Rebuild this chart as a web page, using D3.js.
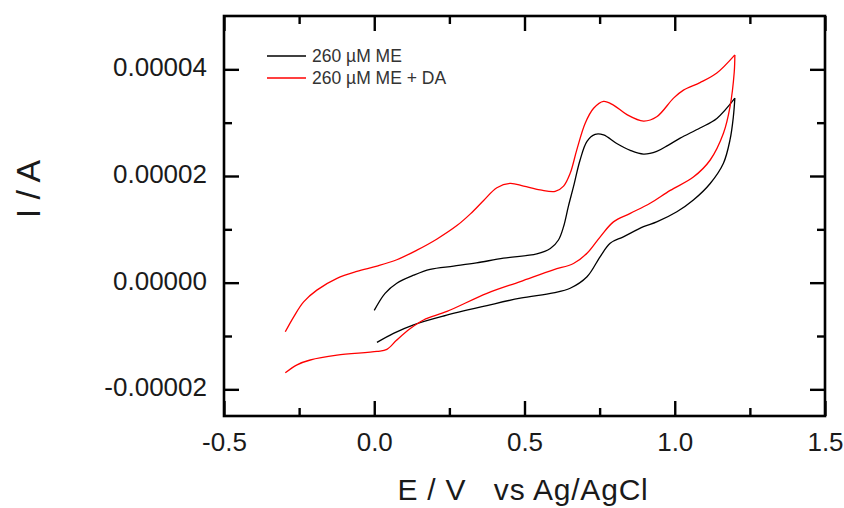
<!DOCTYPE html>
<html>
<head>
<meta charset="utf-8">
<script src="https://cdn.jsdelivr.net/npm/d3@7"></script>
<style>
  html, body { margin: 0; padding: 0; background: #fff; }
  svg { display: block; font-family: "Liberation Sans", Arial, sans-serif; }
</style>
</head>
<body>
<svg id="chart" width="844" height="508"></svg>
<script>
// ---- Data (E in V vs Ag/AgCl, I in µA, converted to A when drawn) ----
const seriesNames = ["260 µM ME", "260 µM ME + DA"];
const seriesColors = ["#000000", "#ff0000"];

// 260 µM ME — anodic (forward) branch
const meFwdE = [0.000, 0.036, 0.075, 0.131, 0.186, 0.264, 0.340, 0.430, 0.541, 0.586, 0.613, 0.630, 0.646, 0.663, 0.685, 0.708, 0.735, 0.763, 0.807, 0.852, 0.896, 0.940, 0.979, 1.018, 1.084, 1.140, 1.200];
const meFwdI = [-5.2, -2.0, -0.1, 1.4, 2.5, 3.1, 3.7, 4.6, 5.4, 6.4, 8.0, 10.5, 14.3, 18.0, 23.0, 26.5, 27.8, 27.7, 26.1, 24.8, 24.1, 24.6, 25.8, 27.1, 29.0, 30.8, 34.6];
// 260 µM ME — cathodic (reverse) branch
const meRevE = [1.200, 1.195, 1.184, 1.162, 1.118, 1.062, 1.007, 0.940, 0.896, 0.829, 0.785, 0.752, 0.708, 0.652, 0.596, 0.486, 0.375, 0.231, 0.131, 0.064, 0.009];
const meRevI = [34.6, 31.1, 26.8, 22.4, 18.6, 15.5, 13.3, 11.4, 10.5, 8.6, 7.4, 4.9, 1.1, -1.05, -1.9, -2.9, -4.3, -6.25, -7.9, -9.5, -11.2];

// 260 µM ME + DA — anodic (forward) branch
const daFwdE = [-0.296, -0.268, -0.235, -0.191, -0.124, -0.058, 0.009, 0.075, 0.142, 0.209, 0.275, 0.320, 0.364, 0.408, 0.452, 0.497, 0.552, 0.602, 0.630, 0.652, 0.674, 0.702, 0.730, 0.763, 0.796, 0.841, 0.896, 0.940, 0.996, 1.029, 1.084, 1.140, 1.200];
const daFwdI = [-9.2, -6.4, -3.6, -1.4, 0.8, 2.1, 3.1, 4.3, 6.1, 8.2, 10.7, 12.9, 15.4, 17.8, 18.6, 18.1, 17.4, 17.1, 18.1, 20.5, 24.9, 29.9, 32.7, 34.0, 33.3, 31.5, 30.3, 31.1, 34.6, 36.1, 37.5, 39.3, 42.7];
// 260 µM ME + DA — cathodic (reverse) branch
const daRevE = [1.200, 1.198, 1.184, 1.162, 1.118, 1.062, 0.985, 0.918, 0.852, 0.796, 0.752, 0.708, 0.663, 0.596, 0.486, 0.375, 0.242, 0.164, 0.120, 0.075, 0.042, 0.009, -0.124, -0.213, -0.257, -0.296];
const daRevI = [42.7, 39.5, 33.0, 28.0, 23.0, 19.8, 17.3, 14.9, 13.0, 11.4, 8.6, 5.5, 3.6, 2.4, 0.2, -2.0, -5.4, -7.0, -8.6, -10.75, -12.5, -12.9, -13.6, -14.5, -15.4, -16.9];

// Axis ticks
const xMajorTicks = [-0.5, 0.0, 0.5, 1.0, 1.5];
const xMinorTicks = [-0.25, 0.25, 0.75, 1.25];
const yMajorTicks = [-0.00002, 0.0, 0.00002, 0.00004];
const yMinorTicks = [-0.00001, 0.00001, 0.00003];
const xDomain = [-0.5, 1.5];
const yDomain = [-0.000025, 0.00005];
const xTitle = "E / V   vs Ag/AgCl";
const yTitle = "I / A";

// ---- Drawing ----
const svg = d3.select("#chart");
const L = 224, R = 825, T = 16, B = 416;
const x = d3.scaleLinear().domain(xDomain).range([L, R]);
const y = d3.scaleLinear().domain(yDomain).range([B, T]);

const toPts = (E, I) => E.map((e, i) => [e, I[i] * 1e-6]);
const branches = [
  { pts: toPts(meFwdE, meFwdI), color: seriesColors[0] },
  { pts: toPts(meRevE, meRevI), color: seriesColors[0] },
  { pts: toPts(daFwdE, daFwdI), color: seriesColors[1] },
  { pts: toPts(daRevE, daRevI), color: seriesColors[1] }
];

const line = d3.line().x(d => x(d[0])).y(d => y(d[1])).curve(d3.curveCatmullRom.alpha(0.5));

svg.append("g").selectAll("path").data(branches).join("path")
  .attr("d", d => line(d.pts))
  .attr("fill", "none")
  .attr("stroke", d => d.color)
  .attr("stroke-width", 1.3)
  .attr("stroke-linejoin", "round");

const hyphen = f => (d => f(d).replace("\u2212", "-"));
const tickW = 2.4, majLen = 15, minLen = 8;
function styleAxis(g, labels) {
  g.select(".domain").remove();
  g.selectAll(".tick line").attr("stroke", "#000").attr("stroke-width", tickW);
  if (!labels) g.selectAll(".tick text").remove();
  else g.selectAll(".tick text").attr("fill", "#1a1a1a").style("font-size", "26px")
        .style("font-family", '"Liberation Sans", Arial, sans-serif');
}

// bottom
svg.append("g").attr("transform", `translate(0,${B})`)
  .call(d3.axisBottom(x).tickValues(xMajorTicks).tickFormat(hyphen(d3.format(".1f"))).tickSize(-majLen).tickPadding(17))
  .call(g => styleAxis(g, true));
svg.append("g").attr("transform", `translate(0,${B})`)
  .call(d3.axisBottom(x).tickValues(xMinorTicks).tickSize(-minLen))
  .call(g => styleAxis(g, false));
// top
svg.append("g").attr("transform", `translate(0,${T})`)
  .call(d3.axisTop(x).tickValues(xMajorTicks).tickSize(-majLen))
  .call(g => styleAxis(g, false));
svg.append("g").attr("transform", `translate(0,${T})`)
  .call(d3.axisTop(x).tickValues(xMinorTicks).tickSize(-minLen))
  .call(g => styleAxis(g, false));
// left
svg.append("g").attr("transform", `translate(${L},0)`)
  .call(d3.axisLeft(y).tickValues(yMajorTicks).tickFormat(hyphen(d3.format(".5f"))).tickSize(-majLen).tickPadding(17))
  .call(g => styleAxis(g, true))
  .call(g => g.selectAll(".tick text").attr("dy", "0.25em"));
svg.append("g").attr("transform", `translate(${L},0)`)
  .call(d3.axisLeft(y).tickValues(yMinorTicks).tickSize(-minLen))
  .call(g => styleAxis(g, false));
// right
svg.append("g").attr("transform", `translate(${R},0)`)
  .call(d3.axisRight(y).tickValues(yMajorTicks).tickSize(-majLen))
  .call(g => styleAxis(g, false));
svg.append("g").attr("transform", `translate(${R},0)`)
  .call(d3.axisRight(y).tickValues(yMinorTicks).tickSize(-minLen))
  .call(g => styleAxis(g, false));

// frame
svg.append("rect").attr("x", L).attr("y", T).attr("width", R - L).attr("height", B - T)
  .attr("fill", "none").attr("stroke", "#000").attr("stroke-width", 2.6);

// axis titles
svg.append("text").attr("x", 523).attr("y", 500).attr("text-anchor", "middle")
  .style("font-size", "30px").style("white-space", "pre").style("letter-spacing", "0.8px")
  .attr("fill", "#1a1a1a")
  .text(xTitle);
svg.append("text").attr("transform", "translate(40,189) rotate(-90)").attr("text-anchor", "middle")
  .style("font-size", "34px").attr("fill", "#1a1a1a")
  .text(yTitle);

// legend
const leg = svg.append("g");
seriesNames.forEach((name, i) => {
  const yy = 56 + i * 22;
  leg.append("line").attr("x1", 267).attr("x2", 306).attr("y1", yy).attr("y2", yy)
    .attr("stroke", seriesColors[i]).attr("stroke-width", 1.3);
  leg.append("text").attr("x", 312).attr("y", yy).attr("dy", "0.36em")
    .style("font-size", "17.5px").attr("fill", "#333").text(name);
});
</script>
</body>
</html>
